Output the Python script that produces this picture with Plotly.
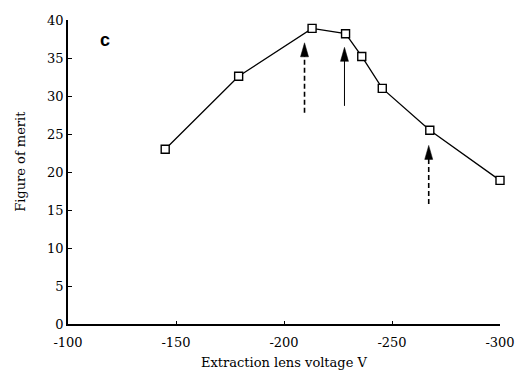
import plotly.graph_objects as go

# Data
voltage = [-145, -179, -213, -228.5, -236, -245.5, -267.5, -300]
merit = [23.0, 32.6, 38.9, 38.2, 35.2, 31.0, 25.5, 18.9]

x_ticks = [-100, -150, -200, -250, -300]
y_ticks = [0, 5, 10, 15, 20, 25, 30, 35, 40]

# Arrows: x position, tip, tail, dash style
arrow_x = [-209.5, -228, -267]
arrow_tip = [37.0, 36.4, 23.5]
arrow_tail = [27.8, 28.7, 15.8]
arrow_dash = ["5px,3px", "solid", "5px,3px"]
arrow_width = [1.6, 1.0, 1.6]

SERIF = "DejaVu Serif"

fig = go.Figure()
fig.add_trace(go.Scatter(
    x=voltage, y=merit, mode="lines+markers",
    line=dict(color="black", width=1.3),
    marker=dict(symbol="square", size=8, color="white",
                line=dict(color="black", width=1.4)),
    showlegend=False, cliponaxis=False,
))

shapes = []
for xa, tip, tail, dash, w in zip(arrow_x, arrow_tip, arrow_tail, arrow_dash, arrow_width):
    shapes.append(dict(type="line", xref="x", yref="y", x0=xa, x1=xa, y0=tail, y1=tip - 1.0,
                       line=dict(color="black", width=w, dash=dash)))
    shapes.append(dict(type="path", xref="x", yref="y",
                       xsizemode="pixel", ysizemode="pixel",
                       xanchor=xa, yanchor=tip,
                       path="M 0 0 L -4 -14 L 4 -14 Z",
                       fillcolor="black", line=dict(color="black", width=0.5)))

fig.update_layout(
    width=527, height=371,
    margin=dict(l=68, r=18, t=20, b=47),
    paper_bgcolor="white", plot_bgcolor="white",
    font=dict(family=SERIF, size=13, color="black"),
    shapes=shapes,
    annotations=[
        dict(text="<b>c</b>", x=-117, y=37.4, xref="x", yref="y", showarrow=False,
             font=dict(family="Liberation Sans", size=18, color="black")),
        dict(text="Extraction lens voltage V", x=0.5, y=-0.125, xref="paper", yref="paper",
             xanchor="center", yanchor="middle", showarrow=False,
             font=dict(family=SERIF, size=13)),
        dict(text="Figure of merit", x=-0.11, y=0.535, xref="paper", yref="paper",
             xanchor="center", yanchor="middle", showarrow=False, textangle=-90,
             font=dict(family=SERIF, size=13)),
    ],
)
fig.update_xaxes(
    range=[-100, -300], tickvals=x_ticks, ticktext=[str(v) for v in x_ticks],
    showgrid=False, zeroline=False, showline=True, linecolor="black", linewidth=1.5,
    ticks="inside", ticklen=3, tickcolor="black", tickfont=dict(size=13, family=SERIF),
    ticklabelstandoff=6,
)
fig.update_yaxes(
    range=[0, 40], tickvals=y_ticks, showgrid=False, zeroline=False,
    showline=True, linecolor="black", linewidth=1.5,
    ticks="inside", ticklen=4, tickcolor="black", tickfont=dict(size=13, family=SERIF),
)

fig.write_html("out.html")
